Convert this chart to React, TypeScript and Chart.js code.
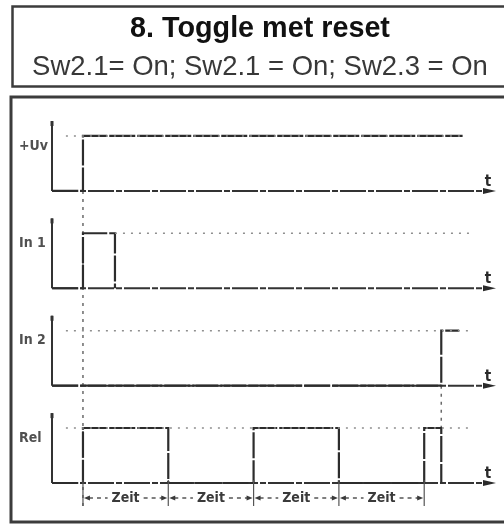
import React, { useEffect, useRef } from "react";
import { Chart, registerables } from "chart.js";

Chart.register(...registerables);

// ---------- text ----------
const titleText = "8. Toggle met reset";
const subtitleText = "Sw2.1= On; Sw2.1 = On; Sw2.3 = On";
const signalNames = ["+Uv", "In 1", "In 2", "Rel"];
const timeLabel = "t";
const intervalLabel = "Zeit";

// ---------- data (time in "Zeit" units, level holding from that time) ----------
const uvTimes = [-0.36, 0, 4.45];
const uvLevels = [0, 1, 1];
const in1Times = [-0.36, 0, 0.375];
const in1Levels = [0, 1, 0];
const in2Times = [-0.36, 4.2, 4.41];
const in2Levels = [0, 1, 1];
const relTimes = [-0.36, 0, 1, 2, 3, 4, 4.2];
const relLevels = [0, 1, 0, 1, 0, 1, 0];

// dotted "high" reference levels
const guideStart = [-0.2, 0.375, -0.2, -0.2];
const guideEnd = [4.45, 4.56, 4.56, 4.56];

// Zeit interval boundaries
const zeitBounds = [0, 1, 2, 3, 4];
// vertical dotted markers (times)
const markerTimes = [0, 4.2];

const timesList = [uvTimes, in1Times, in2Times, relTimes];
const levelsList = [uvLevels, in1Levels, in2Levels, relLevels];

// ---------- layout ----------
const X_MIN = -0.363;
const X_MAX = 4.865;
const Y_MIN = -0.4;
const Y_MAX = 6.69;
const ROW_SPACING = 1.77;

const rowAxis = (i: number) => `y${i}`;
const rowOffset = (i: number) => (3 - i) * ROW_SPACING;

const fitFont = (ctx: CanvasRenderingContext2D, text: string, weight: string, family: string, width: number) => {
  ctx.font = `${weight} 100px ${family}`;
  const w = ctx.measureText(text).width;
  const size = (100 * width) / w;
  return `${weight} ${size.toFixed(2)}px ${family}`;
};

const arrowHead = (ctx: CanvasRenderingContext2D, tipX: number, y: number, dir: number, len: number, half: number) => {
  ctx.beginPath();
  ctx.moveTo(tipX, y);
  ctx.lineTo(tipX - dir * len, y - half);
  ctx.lineTo(tipX - dir * len, y + half);
  ctx.closePath();
  ctx.fill();
};

const diagramPlugin = {
  id: "diagram",
  beforeDraw(chart: any) {
    const ctx: CanvasRenderingContext2D = chart.ctx;
    ctx.save();
    ctx.fillStyle = "#ffffff";
    ctx.fillRect(0, 0, chart.width, chart.height);
    ctx.strokeStyle = "#3c3c3c";
    ctx.lineWidth = 2.5;
    ctx.strokeRect(12.5, 6.5, 530, 80);
    ctx.lineWidth = 3;
    ctx.strokeRect(11, 97, 530, 425);

    ctx.textAlign = "center";
    ctx.textBaseline = "alphabetic";
    ctx.fillStyle = "#111111";
    ctx.font = fitFont(ctx, titleText, "bold", '"Liberation Sans", Arial, sans-serif', 260);
    ctx.fillText(titleText, 260, 37);
    ctx.fillStyle = "#383838";
    ctx.font = fitFont(ctx, subtitleText, "normal", '"Liberation Sans", Arial, sans-serif', 456);
    ctx.fillText(subtitleText, 260, 75);
    ctx.restore();
  },
  beforeDatasetsDraw(chart: any) {
    const ctx: CanvasRenderingContext2D = chart.ctx;
    const xs = chart.scales.x;
    const x0 = xs.getPixelForValue(X_MIN);
    const tip = xs.getPixelForValue(X_MAX) - 2;
    ctx.save();
    ctx.strokeStyle = "#333333";
    ctx.fillStyle = "#2a2a2a";
    signalNames.forEach((_, i) => {
      const ys = chart.scales[rowAxis(i)];
      const base = ys.getPixelForValue(0);
      const top = ys.getPixelForValue(1.27);
      // vertical axis
      ctx.setLineDash([]);
      ctx.lineWidth = 2;
      ctx.beginPath();
      ctx.moveTo(x0, base);
      ctx.lineTo(x0, top);
      ctx.stroke();
      ctx.lineWidth = 3;
      ctx.beginPath();
      ctx.moveTo(x0, top);
      ctx.lineTo(x0, top + 5);
      ctx.stroke();
      // time axis
      ctx.setLineDash([26, 2, 6, 2]);
      ctx.lineWidth = 2;
      ctx.beginPath();
      ctx.moveTo(x0, base);
      ctx.lineTo(tip - 10, base);
      ctx.stroke();
      ctx.setLineDash([]);
      arrowHead(ctx, tip, base, 1, 13, 3);
    });
    // vertical dotted markers
    ctx.strokeStyle = "#6a6a6a";
    ctx.lineWidth = 1.5;
    ctx.setLineDash([3, 5]);
    const yTop0 = chart.scales[rowAxis(0)].getPixelForValue(0);
    ctx.beginPath();
    ctx.moveTo(xs.getPixelForValue(markerTimes[0]), yTop0);
    ctx.lineTo(xs.getPixelForValue(markerTimes[0]), 508);
    ctx.stroke();
    const y2 = chart.scales[rowAxis(2)].getPixelForValue(0);
    const y3 = chart.scales[rowAxis(3)].getPixelForValue(1);
    ctx.beginPath();
    ctx.moveTo(xs.getPixelForValue(markerTimes[1]), y2);
    ctx.lineTo(xs.getPixelForValue(markerTimes[1]), y3);
    ctx.stroke();
    ctx.restore();
  },
  afterDatasetsDraw(chart: any) {
    const ctx: CanvasRenderingContext2D = chart.ctx;
    const xs = chart.scales.x;
    const tip = xs.getPixelForValue(X_MAX) - 2;
    ctx.save();
    // signal labels and t labels
    signalNames.forEach((name, i) => {
      const ys = chart.scales[rowAxis(i)];
      const base = ys.getPixelForValue(0);
      const high = ys.getPixelForValue(1);
      ctx.fillStyle = "#505050";
      ctx.textAlign = "left";
      ctx.textBaseline = "middle";
      ctx.font = 'bold 14px "DejaVu Sans Condensed", "Liberation Sans Narrow", sans-serif';
      ctx.fillText(name, 19, high + 10);
      ctx.fillStyle = "#2a2a2a";
      ctx.textAlign = "center";
      ctx.textBaseline = "alphabetic";
      ctx.font = 'bold 15px "DejaVu Sans Condensed", sans-serif';
      ctx.fillText(timeLabel, tip - 8, base - 5);
    });
    // Zeit dimension line
    const yz = 498;
    const relBase = chart.scales[rowAxis(3)].getPixelForValue(0);
    ctx.font = 'bold 14px "DejaVu Sans Condensed", "Liberation Sans Narrow", sans-serif';
    const tw = ctx.measureText(intervalLabel).width;
    ctx.strokeStyle = "#555555";
    ctx.fillStyle = "#3a3a3a";
    zeitBounds.forEach((b, k) => {
      const xa = xs.getPixelForValue(b);
      ctx.setLineDash([]);
      ctx.lineWidth = 1.2;
      ctx.beginPath();
      ctx.moveTo(xa, relBase - 3);
      ctx.lineTo(xa, yz + 8);
      ctx.stroke();
      if (k === zeitBounds.length - 1) return;
      const xb = xs.getPixelForValue(zeitBounds[k + 1]);
      const mid = (xa + xb) / 2;
      ctx.setLineDash([4, 4]);
      ctx.lineWidth = 1.5;
      ctx.beginPath();
      ctx.moveTo(xa + 6, yz);
      ctx.lineTo(mid - tw / 2 - 4, yz);
      ctx.moveTo(mid + tw / 2 + 4, yz);
      ctx.lineTo(xb - 6, yz);
      ctx.stroke();
      ctx.setLineDash([]);
      arrowHead(ctx, xa + 1, yz, -1, 6, 2.5);
      arrowHead(ctx, xb - 1, yz, 1, 6, 2.5);
      ctx.textAlign = "center";
      ctx.textBaseline = "middle";
      ctx.fillText(intervalLabel, mid, yz);
    });
    ctx.restore();
  },
};

export default function App() {
  const ref = useRef<HTMLCanvasElement | null>(null);
  useEffect(() => {
    if (!ref.current) return;
    const datasets: any[] = [];
    signalNames.forEach((name, i) => {
      datasets.push({
        label: name + " guide",
        data: [
          { x: guideStart[i], y: 1 },
          { x: guideEnd[i], y: 1 },
        ],
        yAxisID: rowAxis(i),
        borderColor: "#8f8f8f",
        borderWidth: 1.5,
        borderDash: [2, 6],
        pointRadius: 0,
        fill: false,
        clip: false,
      });
    });
    signalNames.forEach((name, i) => {
      datasets.push({
        label: name,
        data: timesList[i].map((t, j) => ({ x: t, y: levelsList[i][j] })),
        yAxisID: rowAxis(i),
        stepped: "before",
        borderColor: "#2c2c2c",
        borderWidth: 2.2,
        borderDash: [26, 2],
        pointRadius: 0,
        fill: false,
        clip: false,
      });
    });
    const scales: any = {
      x: { type: "linear", min: X_MIN, max: X_MAX, display: false },
    };
    signalNames.forEach((_, i) => {
      scales[rowAxis(i)] = {
        type: "linear",
        min: Y_MIN - rowOffset(i),
        max: Y_MAX - rowOffset(i),
        display: false,
      };
    });
    const chart = new Chart(ref.current, {
      type: "line",
      data: { datasets },
      options: {
        animation: false,
        responsive: false,
        devicePixelRatio: 1,
        layout: { padding: { left: 52, right: 6, top: 115, bottom: 19 } },
        plugins: { legend: { display: false }, tooltip: { enabled: false }, title: { display: false } },
        scales,
        events: [],
      },
      plugins: [diagramPlugin as any],
    });
    return () => chart.destroy();
  }, []);
  return (
    <div style={{ position: "fixed", left: 0, top: 0, width: 504, height: 524, background: "#fff" }}>
      <canvas ref={ref} width={504} height={524} style={{ width: 504, height: 524, display: "block" }} />
    </div>
  );
}
